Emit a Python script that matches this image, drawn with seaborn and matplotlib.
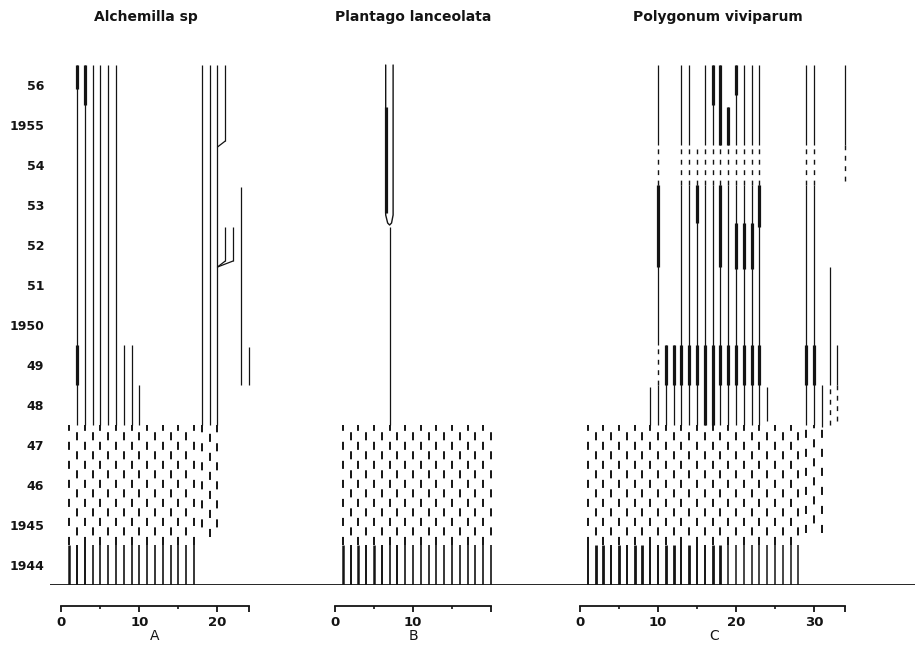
import numpy as np
import pandas as pd
import matplotlib
matplotlib.use("Agg")
import matplotlib.pyplot as plt
import seaborn as sns

# ------------------------------------------------------------
# data: one column per marked individual,
# years on the vertical axis (each year spans Y-0.5 .. Y+0.5)
# ------------------------------------------------------------
years = [1944, 1945, 1946, 1947, 1948, 1949, 1950, 1951, 1952, 1953, 1954, 1955, 1956]
year_labels = ['1944', '1945', '46', '47', '48', '49', '1950', '51', '52', '53', '54', '1955', '56']

titles = ['Alchemilla sp', 'Plantago lanceolata', 'Polygonum viviparum']
letters = ['A', 'B', 'C']

# --- A: Alchemilla ---
a_first = [1, 2, 3, 4, 5, 6, 7, 8, 9, 10, 11, 12, 13, 14, 15, 16, 17]
a_first_lw = [1.8, 1.4, 1.4, 1.2, 1.2, 1.2, 1.2, 1.2, 1.2, 1.2, 1.2, 1.2, 1.2, 1.2, 1.2, 1.2, 1.2]
a_gap = [1, 2, 3, 4, 5, 6, 7, 8, 9, 10, 11, 12, 13, 14, 15, 16, 17, 18, 19, 20]
a_gap_from = [1944.5, 1944.5, 1944.5, 1944.5, 1944.5, 1944.5, 1944.5, 1944.5, 1944.5, 1944.5,
              1944.5, 1944.5, 1944.5, 1944.5, 1944.5, 1944.5, 1944.5, 1944.7, 1944.7, 1944.7]
a_life = [(2, 1947.5, 1956.5), (3, 1947.5, 1956.5), (4, 1947.5, 1956.5), (5, 1947.5, 1956.5),
          (6, 1947.5, 1956.5), (7, 1947.5, 1956.5), (8, 1947.5, 1949.5), (9, 1947.5, 1949.5),
          (10, 1947.5, 1948.5), (18, 1947.5, 1956.5), (19, 1947.5, 1956.5), (20, 1947.5, 1956.5),
          (21, 1954.6, 1956.5), (21, 1951.6, 1952.45), (22, 1951.6, 1952.45),
          (23, 1948.5, 1953.45), (24, 1948.5, 1949.45)]
a_flower = [(2, 1948.5, 1949.5), (2, 1955.9, 1956.5), (3, 1955.5, 1956.5)]
a_branch = [(21, 1954.6, 20, 1954.45), (21, 1951.6, 20, 1951.45), (22, 1951.6, 20, 1951.45)]

# --- B: Plantago ---
b_first = [1, 2, 3, 4, 5, 6, 7, 8, 9, 10, 11, 12, 13, 14, 15, 16, 17, 18, 19, 20]
b_first_lw = [1.8, 1.4, 1.8, 1.4, 1.8, 1.4, 1.2, 1.4, 1.2, 1.2, 1.2, 1.2, 1.2, 1.2, 1.2, 1.2, 1.2, 1.2, 1.2, 1.2]
b_gap = [1, 2, 3, 4, 5, 6, 7, 8, 9, 10, 11, 12, 13, 14, 15, 16, 17, 18, 19, 20]
b_gap_from = [1944.5] * 20
b_life = [(7, 1947.5, 1952.45)]
b_flower = [(6.5, 1952.8, 1955.45)]
b_loop_x = [6.5, 6.5, 6.75, 7.0, 7.25, 7.45, 7.45]
b_loop_y = [1956.5, 1952.75, 1952.55, 1952.5, 1952.55, 1952.75, 1956.5]

# --- C: Polygonum ---
c_first = [1, 2, 3, 4, 5, 6, 7, 8, 9, 10, 11, 12, 13, 14, 15, 16, 17, 18, 19, 20,
           21, 22, 23, 24, 25, 26, 27, 28]
c_first_lw = [1.4, 2.0, 2.0, 1.4, 2.0, 1.4, 2.0, 2.0, 1.4, 1.4, 2.0, 2.0, 1.4, 2.0, 1.4, 1.4,
              2.0, 2.0, 1.1, 1.1, 1.1, 1.1, 1.1, 1.1, 1.1, 1.1, 1.1, 1.1]
c_gap = [1, 2, 3, 4, 5, 6, 7, 8, 9, 10, 11, 12, 13, 14, 15, 16, 17, 18, 19, 20,
         21, 22, 23, 24, 25, 26, 27, 28, 29, 30, 31]
c_gap_from = [1944.5] * 28 + [1944.8, 1944.8, 1944.8]
c_life = [(9, 1947.5, 1948.45),
          (10, 1947.5, 1948.5), (10, 1949.5, 1953.5), (10, 1954.5, 1956.5),
          (11, 1947.5, 1949.5), (12, 1947.5, 1949.5),
          (13, 1947.5, 1953.5), (13, 1954.5, 1956.5),
          (14, 1947.5, 1953.5), (14, 1954.5, 1956.5),
          (15, 1947.5, 1953.5),
          (16, 1947.5, 1953.5), (16, 1954.5, 1956.5),
          (17, 1947.5, 1953.5), (17, 1954.5, 1956.5),
          (18, 1947.5, 1953.5), (18, 1954.5, 1956.5),
          (19, 1947.5, 1953.5), (19, 1954.5, 1955.45),
          (20, 1947.5, 1953.5), (20, 1954.5, 1956.5),
          (21, 1947.5, 1953.5), (21, 1954.5, 1956.5),
          (22, 1947.5, 1953.5), (22, 1954.5, 1956.5),
          (23, 1947.5, 1953.5), (23, 1954.5, 1956.5),
          (24, 1947.6, 1948.45),
          (29, 1947.5, 1953.5), (29, 1954.5, 1956.5),
          (30, 1947.5, 1953.5), (30, 1954.5, 1956.5),
          (31, 1947.45, 1948.5), (32, 1948.5, 1951.45), (33, 1948.5, 1949.5),
          (34, 1954.5, 1956.5)]
c_missing = [(10, 1948.5, 1949.5), (10, 1953.5, 1954.5), (13, 1953.5, 1954.5), (14, 1953.5, 1954.5),
             (15, 1953.5, 1954.4), (16, 1953.5, 1954.5), (17, 1953.5, 1954.5), (18, 1953.5, 1954.5),
             (19, 1953.5, 1954.5), (20, 1953.5, 1954.5), (21, 1953.5, 1954.5), (22, 1953.5, 1954.5),
             (23, 1953.5, 1954.5), (29, 1953.5, 1954.5), (30, 1953.5, 1954.5),
             (32, 1947.5, 1948.5), (33, 1947.6, 1948.5), (34, 1953.6, 1954.5)]
c_flower = [(11, 1948.5, 1949.5), (12, 1948.5, 1949.5), (13, 1948.5, 1949.5), (14, 1948.5, 1949.5),
            (15, 1948.5, 1949.5), (16, 1947.5, 1949.5), (17, 1947.5, 1949.5), (18, 1948.5, 1949.5),
            (19, 1948.5, 1949.5), (20, 1948.5, 1949.5), (21, 1948.5, 1949.5), (22, 1948.5, 1949.5),
            (23, 1948.5, 1949.5), (29, 1948.5, 1949.5), (30, 1948.5, 1949.5),
            (10, 1951.45, 1953.5), (15, 1952.55, 1953.5), (18, 1951.45, 1953.5), (23, 1952.45, 1953.5),
            (20, 1951.4, 1952.55), (21, 1951.4, 1952.55), (22, 1951.4, 1952.55),
            (17, 1955.5, 1956.5), (18, 1954.5, 1956.5), (19, 1954.5, 1955.45), (20, 1955.75, 1956.5)]

# scale bars under each panel
a_scale, b_scale, c_scale = 24, 20, 34

# ------------------------------------------------------------
sns.set_theme(style="white")
plt.rcParams['font.family'] = ['DejaVu Sans']
plt.rcParams['lines.scale_dashes'] = False

INK = '#141414'
W, H = 915, 647
PX = 7.8      # pixels per individual on the x scale
YPX = 40      # pixels per year
BASE = 585    # pixel row of the 1943.5 baseline

fig = plt.figure(figsize=(W / 100, H / 100), dpi=100)


def panel_axes(zero_px, lo, hi):
    ax = fig.add_axes([(zero_px + lo * PX) / W, 1 - BASE / H, (hi - lo) * PX / W, 13.5 * YPX / H])
    ax.set_xlim(lo, hi)
    ax.set_ylim(1943.5, 1957.0)
    ax.patch.set_alpha(0)
    return ax


def draw_panel(ax, first, first_lw, gap, gap_from, life, flower, missing=(), branch=(), scale=20):
    # first census year, solid
    ax.vlines(first, 1943.5, 1944.5, colors=INK, lw=first_lw)
    # 1945-47, only partly followed -> broken lines, staggered
    styles = [((i % 2) * 6.8, (5.8, 7.9)) for i in range(len(gap))]
    ax.vlines(gap, gap_from, [1947.5] * len(gap), colors=INK, lw=1.4, linestyles=styles)
    if life:
        df = pd.DataFrame(life, columns=['x', 'y0', 'y1'])
        ax.vlines(df.x, df.y0, df.y1, colors=INK, lw=0.9)
    if flower:
        df = pd.DataFrame(flower, columns=['x', 'y0', 'y1'])
        ax.vlines(df.x, df.y0, df.y1, colors=INK, lw=2.3)
    if missing:
        df = pd.DataFrame(missing, columns=['x', 'y0', 'y1'])
        ax.vlines(df.x, df.y0, df.y1, colors=INK, lw=1.0, linestyles=[(0, (3.5, 4.0))])
    for x0, y0, x1, y1 in branch:
        ax.plot([x0, x1], [y0, y1], color=INK, lw=0.9)

    sns.despine(ax=ax, left=True, offset={'bottom': 15})
    ax.spines['bottom'].set_bounds(0, scale)
    ax.spines['bottom'].set_linewidth(1.3)
    ax.spines['bottom'].set_color(INK)
    major = [t for t in (0, 10, 20, 30) if t <= scale]
    if scale not in major:
        major.append(scale)
    ax.set_xticks(major, [str(t) if t % 10 == 0 and t < scale - 2 or t == 0 else '' for t in major])
    ax.set_xticks([t for t in (5, 15, 25) if t < scale], minor=True)
    ax.tick_params(axis='x', which='major', bottom=True, length=4, width=1.3, color=INK,
                   pad=3, labelsize=9.5, labelcolor=INK)
    ax.tick_params(axis='x', which='minor', bottom=True, length=2.2, width=1.2, color=INK)
    for lab in ax.get_xticklabels():
        lab.set_fontweight('bold')
    ax.set_yticks([])
    ax.grid(False)


ax_a = panel_axes(61.5, -1.5, 25.5)
ax_b = panel_axes(335, -1.5, 21.5)
ax_c = panel_axes(580, -1.5, 36.0)

draw_panel(ax_a, a_first, a_first_lw, a_gap, a_gap_from, a_life, a_flower,
           branch=a_branch, scale=a_scale)
draw_panel(ax_b, b_first, b_first_lw, b_gap, b_gap_from, b_life, b_flower, scale=b_scale)
ax_b.plot(b_loop_x, b_loop_y, color=INK, lw=1.0)
draw_panel(ax_c, c_first, c_first_lw, c_gap, c_gap_from, c_life, c_flower,
           missing=c_missing, scale=c_scale)

# year labels on the left panel
ax_a.set_yticks(years, year_labels)
ax_a.tick_params(axis='y', left=False, length=0, pad=4, labelsize=9, labelcolor=INK)
for lab in ax_a.get_yticklabels():
    lab.set_fontweight('bold')

for ax, letter in zip([ax_a, ax_b, ax_c], letters):
    ax.set_xlabel(letter, fontsize=10, color=INK, labelpad=0.5)

# common baseline running across all three panels
bg = fig.add_axes([50 / W, 1 - BASE / H, 865 / W, 13.5 * YPX / H])
bg.set_ylim(1943.5, 1957.0)
bg.axhline(1943.5, color=INK, lw=1.3)
bg.axis('off')
bg.patch.set_alpha(0)

for title, xc in zip(titles, [146, 413, 718]):
    fig.text(xc / W, 1 - 17 / H, title, ha='center', va='center', fontsize=10,
             fontweight='semibold', color=INK)

fig.savefig('out.png', dpi=100)
